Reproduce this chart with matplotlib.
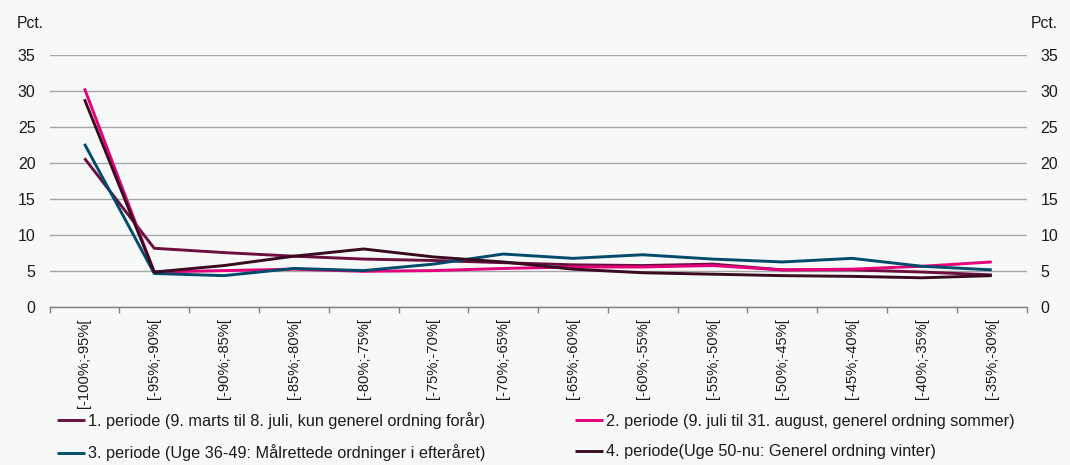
import matplotlib
matplotlib.use("Agg")
import matplotlib.pyplot as plt
from matplotlib.ticker import FixedLocator, NullFormatter

plt.rcParams["font.family"] = ["Liberation Sans", "DejaVu Sans"]
plt.rcParams["font.size"] = 11

# ── Data ────────────────────────────────────────────────────────────
categories = [
    "[-100%;-95%[", "[-95%;-90%[", "[-90%;-85%[", "[-85%;-80%[",
    "[-80%;-75%[", "[-75%;-70%[", "[-70%;-65%[", "[-65%;-60%[",
    "[-60%;-55%[", "[-55%;-50%[", "[-50%;-45%[", "[-45%;-40%[",
    "[-40%;-35%[", "[-35%;-30%[",
]

periode_1 = [20.7, 8.2, 7.6, 7.1, 6.7, 6.5, 6.2, 5.9, 5.8, 6.0, 5.2, 5.2, 4.9, 4.5]
periode_2 = [30.4, 4.9, 5.1, 5.3, 5.0, 5.1, 5.4, 5.6, 5.6, 5.8, 5.2, 5.3, 5.7, 6.3]
periode_3 = [22.7, 4.7, 4.4, 5.4, 5.1, 6.0, 7.4, 6.8, 7.3, 6.7, 6.3, 6.8, 5.7, 5.2]
periode_4 = [28.9, 4.9, 5.8, 7.1, 8.1, 7.0, 6.3, 5.3, 4.8, 4.6, 4.4, 4.3, 4.1, 4.4]

labels = [
    "1. periode (9. marts til 8. juli, kun generel ordning forår)",
    "2. periode (9. juli til 31. august, generel ordning sommer)",
    "3. periode (Uge 36-49: Målrettede ordninger i efteråret)",
    "4. periode(Uge 50-nu: Generel ordning vinter)",
]

y_ticks = [0, 5, 10, 15, 20, 25, 30, 35]

# ── Colours ─────────────────────────────────────────────────────────
BG = "#F7F9F9"
C1 = "#6B0F3F"
C2 = "#E4007C"
C3 = "#004A6A"
C4 = "#3A0A20"
GRID = "#A6A6A6"
TEXT = "#1A1A1A"

fig = plt.figure(figsize=(10.70, 4.65), dpi=100, facecolor=BG)
ax = fig.add_axes([0.0463, 0.3391, 0.9132, 0.5420])
ax.set_facecolor(BG)

x = list(range(len(categories)))
lines = []
for vals, col, lab in zip([periode_1, periode_2, periode_3, periode_4],
                          [C1, C2, C3, C4], labels):
    ln, = ax.plot(x, vals, color=col, lw=2.1, label=lab,
                  solid_joinstyle="round", solid_capstyle="butt", zorder=3)
    lines.append(ln)

ax.set_xlim(-0.5, len(categories) - 0.5)
ax.set_ylim(0, 35)

# y axis (both sides)
ax.set_yticks(y_ticks)
ax.tick_params(axis="y", length=0, pad=10, labelsize=11.5, colors=TEXT,
               left=False, right=False, labelleft=True, labelright=True)
ax.yaxis.grid(True, color=GRID, lw=1.0, zorder=1)
ax.set_axisbelow(True)

# x axis: labels at centres, ticks at boundaries
ax.set_xticks(x)
ax.set_xticklabels(categories, rotation=90, fontsize=10.6, color=TEXT)
ax.tick_params(axis="x", which="major", length=0, pad=8)
ax.xaxis.set_minor_locator(FixedLocator([i - 0.5 for i in range(len(categories) + 1)]))
ax.xaxis.set_minor_formatter(NullFormatter())
ax.tick_params(axis="x", which="minor", length=4, width=1, color="#808080",
               direction="out")

for side in ["top", "left", "right"]:
    ax.spines[side].set_visible(False)
ax.spines["bottom"].set_color("#808080")
ax.spines["bottom"].set_linewidth(1.0)

fig.text(17 / 1070, 1 - 24 / 465, "Pct.", fontsize=11.3, color=TEXT,
         ha="left", va="center")
fig.text(1058 / 1070, 1 - 24 / 465, "Pct.", fontsize=11.3, color=TEXT,
         ha="right", va="center")

order = [0, 2, 1, 3]
fig.legend([lines[i] for i in order], [labels[i] for i in order],
           loc="upper left", bbox_to_anchor=(57 / 1070, 1 - 412 / 465),
           ncol=2, frameon=False, fontsize=11.7, borderpad=0, borderaxespad=0,
           handlelength=1.75, handletextpad=0.15, columnspacing=5.5,
           labelspacing=0.95, labelcolor=TEXT)

fig.savefig("out.png", dpi=100, facecolor=fig.get_facecolor())
